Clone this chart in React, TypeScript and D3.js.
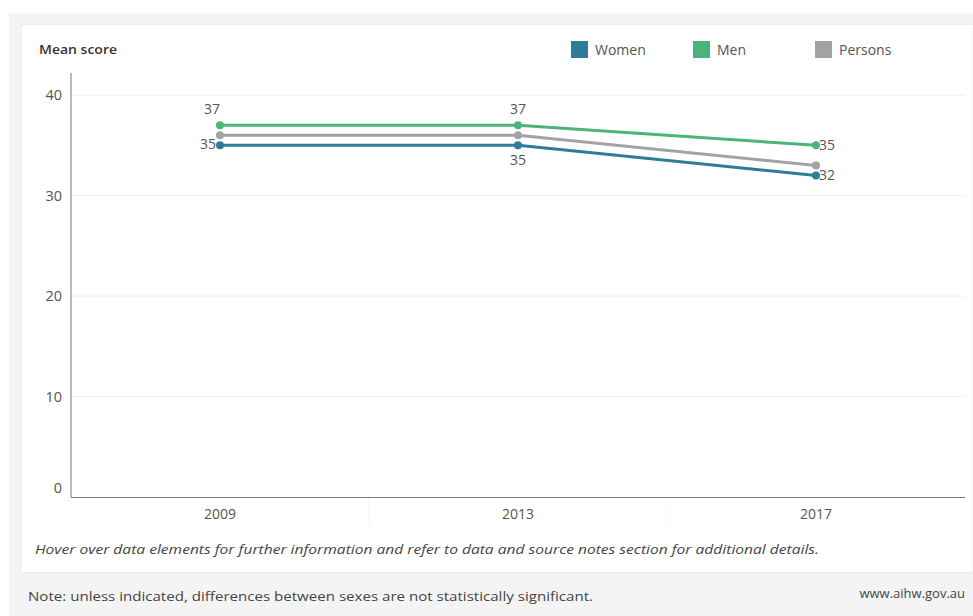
import React from 'react';
import * as d3 from 'd3';

const years = ['2009', '2013', '2017'];
const women = [35, 35, 32];
const men = [37, 37, 35];
const persons = [36, 36, 33];
const seriesNames = ['Women', 'Men', 'Persons'];
const yTicks = [0, 10, 20, 30, 40];
const axisTitle = 'Mean score';
const hoverNote = 'Hover over data elements for further information and refer to data and source notes section for additional details.';
const footNote = 'Note: unless indicated, differences between sexes are not statistically significant.';
const source = 'www.aihw.gov.au';

// label placement per point (style only)
const womenLabelPos = ['left', 'below', 'right'];
const menLabelPos = ['above', 'above', 'right'];

const COLORS: Record<string, string> = { Women: '#2d7c98', Men: '#4bb47b', Persons: '#a3a3a3' };
const FONT = '"Open Sans", sans-serif';
const TXT = '#555';

export default function App() {
  const W = 973, H = 616;
  const x = d3.scaleBand<string>().domain(years).range([71, 965]).padding(0);
  const cx = (y: string) => (x(y) as number) + x.bandwidth() / 2;
  const y = d3.scaleLinear().domain([0, 42.2]).range([497, 73]);

  const series = [
    { name: 'Persons', values: persons, labels: null as string[] | null },
    { name: 'Women', values: women, labels: womenLabelPos },
    { name: 'Men', values: men, labels: menLabelPos },
  ];

  const line = d3.line<number>().x((_, i) => cx(years[i])).y(d => y(d));

  const legendX = [571, 693, 815];

  return (
    <div style={{ position: 'absolute', left: 0, top: 0 }}>
      <svg width={W} height={H} style={{ display: 'block', fontFamily: FONT }}>
        <rect x={0} y={0} width={W} height={H} fill="#fff" />
        <rect x={9} y={13} width={W - 9} height={H - 13} fill="#f4f4f4" />
        <rect x={21} y={24.5} width={W - 21} height={548} fill="#fff" stroke="#ececec" />

        {/* title */}
        <text x={39} y={50} dy="0.35em" fontSize={12.5} fontWeight={600} fill="#333"
          textLength={78} lengthAdjust="spacingAndGlyphs">{axisTitle}</text>

        {/* legend */}
        {seriesNames.map((n, i) => (
          <g key={n}>
            <rect x={legendX[i]} y={41} width={17} height={17} fill={COLORS[n]} />
            <text x={legendX[i] + 24} y={50} dy="0.35em" fontSize={14} fill={TXT}>{n}</text>
          </g>
        ))}

        {/* gridlines */}
        {yTicks.filter(t => t > 0).map(t => (
          <line key={t} x1={71} x2={965} y1={y(t)} y2={y(t)} stroke="#efefef" strokeWidth={1} />
        ))}
        {years.slice(1).map(yr => (
          <line key={yr} x1={x(yr) as number} x2={x(yr) as number} y1={497} y2={525} stroke="#f5f5f5" />
        ))}

        {/* axes */}
        <line x1={71} x2={71} y1={y.range()[1]} y2={y(0)} stroke="#777" strokeWidth={1} />
        <line x1={71} x2={965} y1={y(0) + 0.5} y2={y(0) + 0.5} stroke="#777" strokeWidth={1} />

        {yTicks.map(t => (
          <text key={t} x={62} y={y(t) - (t === 0 ? 9 : 0)} dy="0.35em" textAnchor="end" fontSize={14.5} fill={TXT}>{t}</text>
        ))}
        {years.map(yr => (
          <text key={yr} x={cx(yr)} y={514} dy="0.35em" textAnchor="middle" fontSize={14} fill={TXT}>{yr}</text>
        ))}

        {/* lines */}
        {series.map(s => (
          <g key={s.name}>
            <path d={line(s.values) as string} fill="none" stroke={COLORS[s.name]} strokeWidth={3} strokeLinejoin="round" />
            {s.values.map((v, i) => (
              <circle key={i} cx={cx(years[i])} cy={y(v)} r={4} fill={COLORS[s.name]} />
            ))}
          </g>
        ))}

        {/* data labels */}
        {series.filter(s => s.labels).map(s => s.values.map((v, i) => {
          const pos = (s.labels as string[])[i];
          const px = cx(years[i]);
          const py = y(v);
          let tx = px, ty = py, anchor = 'middle';
          if (pos === 'above') { tx = px - (i === 0 ? 8 : 0); ty = py - 16; }
          if (pos === 'below') { ty = py + 15; }
          if (pos === 'left') { tx = px - 4; ty = py - 1; anchor = 'end'; }
          if (pos === 'right') { tx = px + 3; ty = py; anchor = 'start'; }
          return (
            <text key={s.name + i} x={tx} y={ty} dy="0.35em" textAnchor={anchor} fontSize={14} fill={TXT}>{v}</text>
          );
        }))}

        {/* notes */}
        <text x={35} y={549} dy="0.35em" fontSize={13} fontStyle="italic" fill="#444"
          textLength={784} lengthAdjust="spacingAndGlyphs">{hoverNote}</text>
        <text x={28} y={596} dy="0.35em" fontSize={13} fill="#444"
          textLength={565} lengthAdjust="spacingAndGlyphs">{footNote}</text>
        <text x={965} y={593} dy="0.35em" textAnchor="end" fontSize={13} fill="#444">{source}</text>
      </svg>
    </div>
  );
}
